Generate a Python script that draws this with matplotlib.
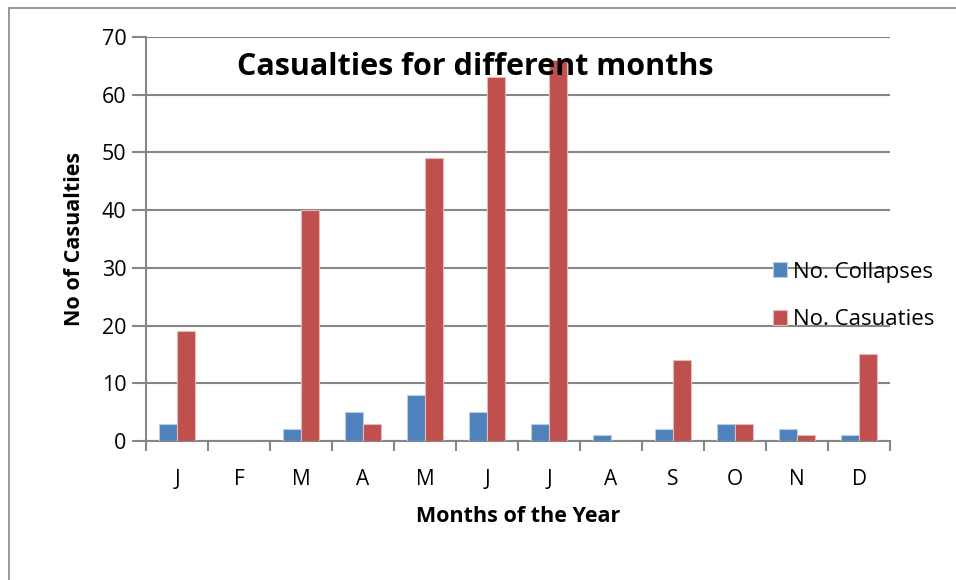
import matplotlib
matplotlib.use("Agg")
import matplotlib.pyplot as plt
from matplotlib.lines import Line2D
import numpy as np

months = ["J", "F", "M", "A", "M", "J", "J", "A", "S", "O", "N", "D"]
collapses = [3, 0, 2, 5, 8, 5, 3, 1, 2, 3, 2, 1]
casualties = [19, 0, 40, 3, 49, 63, 66, 0, 14, 3, 1, 15]
series_names = ["No. Collapses", "No. Casuaties"]
yticks = [0, 10, 20, 30, 40, 50, 60, 70]

plt.rcParams['font.family'] = ['Open Sans', 'DejaVu Sans']

W, H = 956, 580
fig = plt.figure(figsize=(W / 100, H / 100), dpi=100)
ax = fig.add_axes([146 / W, 1 - 441 / H, (890 - 146) / W, (441 - 37) / H])

grid_c = "#878787"
x = np.arange(len(months))
bw = 1 / 3.5
ax.bar(x - bw / 2, collapses, width=bw, color="#4F81BD", edgecolor="#B9CDE5",
       linewidth=0.8, label=series_names[0], zorder=3)
ax.bar(x + bw / 2, casualties, width=bw, color="#C0504D", edgecolor="#E6B9B8",
       linewidth=0.8, label=series_names[1], zorder=3)

ax.set_xlim(-0.5, len(months) - 0.5)
ax.set_ylim(0, 70)
ax.set_yticks(yticks)
ax.set_yticklabels([str(v) for v in yticks], fontsize=15.5)
ax.yaxis.grid(True, color=grid_c, linewidth=1.5, zorder=0)
ax.set_axisbelow(True)
ax.tick_params(axis='y', length=10, width=1.5, color=grid_c, pad=4)

ax.set_xticks(np.arange(-0.5, len(months), 1.0))
ax.set_xticklabels([])
ax.tick_params(axis='x', which='major', length=7, width=1.5, color=grid_c)
ax.set_xticks(x, minor=True)
ax.set_xticklabels(months, minor=True, fontsize=15)
ax.tick_params(axis='x', which='minor', length=0, pad=20)

for s in ["top", "right"]:
    ax.spines[s].set_visible(False)
for s in ["left", "bottom"]:
    ax.spines[s].set_color(grid_c)
    ax.spines[s].set_linewidth(1.5)

ax.set_ylabel("No of Casualties", fontsize=15.5, fontweight="bold", labelpad=12)
ax.set_xlabel("Months of the Year", fontsize=15.5, fontweight="bold", labelpad=12)

fig.text(475 / W, 1 - 67 / H, "Casualties for different months", fontsize=22,
         fontweight="bold", ha="center", va="center")

ax.legend(loc="center left", bbox_to_anchor=((773 - 146) / (890 - 146), (441 - 296) / (441 - 37)),
          frameon=False, fontsize=16, handlelength=0.65, handleheight=0.65,
          handletextpad=0.25, labelspacing=1.2, borderaxespad=0, borderpad=0)

fig.add_artist(Line2D([8.5 / W, 8.5 / W], [0, 1 - 8 / H], color=grid_c, linewidth=1.2))
fig.add_artist(Line2D([8.5 / W, 1], [1 - 8 / H, 1 - 8 / H], color=grid_c, linewidth=1.2))

fig.savefig("out.png", dpi=100)
